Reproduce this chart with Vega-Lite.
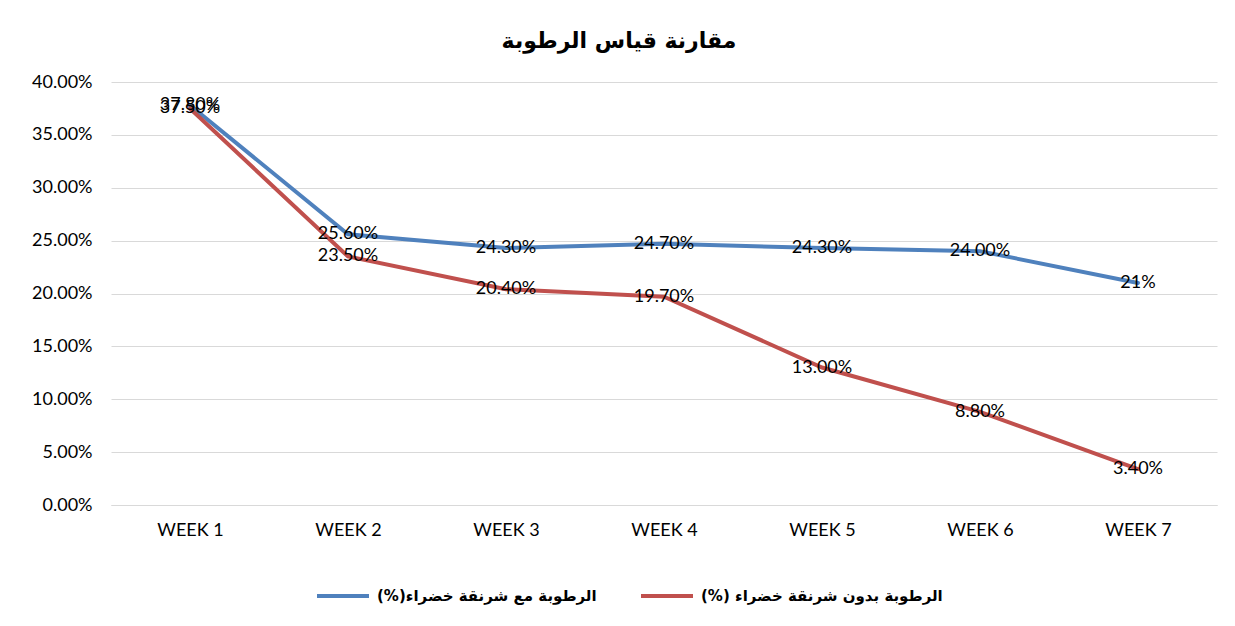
{
  "$schema": "https://vega.github.io/schema/vega-lite/v6.json",
  "width": 1106,
  "height": 423,
  "autosize": {"type": "none"},
  "padding": {"left": 111, "top": 82, "right": 18, "bottom": 121},
  "background": "white",
  "title": {
    "text": "مقارنة قياس الرطوبة",
    "font": "DejaVu Sans",
    "fontSize": 22,
    "fontWeight": "bold",
    "color": "#000000",
    "anchor": "middle",
    "dx": -45,
    "offset": 20
  },
  "config": {
    "view": {"stroke": null},
    "font": "Lato"
  },
  "data": {
    "values": [
      {"week": "WEEK 1", "series": "الرطوبة مع شرنقة خضراء(%)", "value": 0.378, "label": "37.80%"},
      {"week": "WEEK 2", "series": "الرطوبة مع شرنقة خضراء(%)", "value": 0.256, "label": "25.60%"},
      {"week": "WEEK 3", "series": "الرطوبة مع شرنقة خضراء(%)", "value": 0.243, "label": "24.30%"},
      {"week": "WEEK 4", "series": "الرطوبة مع شرنقة خضراء(%)", "value": 0.247, "label": "24.70%"},
      {"week": "WEEK 5", "series": "الرطوبة مع شرنقة خضراء(%)", "value": 0.243, "label": "24.30%"},
      {"week": "WEEK 6", "series": "الرطوبة مع شرنقة خضراء(%)", "value": 0.240, "label": "24.00%"},
      {"week": "WEEK 7", "series": "الرطوبة مع شرنقة خضراء(%)", "value": 0.21, "label": "21%"},
      {"week": "WEEK 1", "series": "الرطوبة بدون شرنقة خضراء (%)", "value": 0.375, "label": "37.50%"},
      {"week": "WEEK 2", "series": "الرطوبة بدون شرنقة خضراء (%)", "value": 0.235, "label": "23.50%"},
      {"week": "WEEK 3", "series": "الرطوبة بدون شرنقة خضراء (%)", "value": 0.204, "label": "20.40%"},
      {"week": "WEEK 4", "series": "الرطوبة بدون شرنقة خضراء (%)", "value": 0.197, "label": "19.70%"},
      {"week": "WEEK 5", "series": "الرطوبة بدون شرنقة خضراء (%)", "value": 0.13, "label": "13.00%"},
      {"week": "WEEK 6", "series": "الرطوبة بدون شرنقة خضراء (%)", "value": 0.088, "label": "8.80%"},
      {"week": "WEEK 7", "series": "الرطوبة بدون شرنقة خضراء (%)", "value": 0.034, "label": "3.40%"}
    ]
  },
  "encoding": {
    "x": {
      "field": "week",
      "type": "ordinal",
      "scale": {"type": "point", "padding": 0.5},
      "axis": {
        "title": null,
        "labelAngle": 0,
        "labelFont": "Lato",
        "labelFontSize": 18,
        "labelFontWeight": "normal",
        "labelColor": "#000000",
        "labelPadding": 16,
        "ticks": false,
        "domainColor": "#d9d9d9",
        "grid": false
      }
    },
    "y": {
      "field": "value",
      "type": "quantitative",
      "scale": {"domain": [0, 0.4], "nice": false},
      "axis": {
        "title": null,
        "format": ".2%",
        "values": [0, 0.05, 0.1, 0.15, 0.2, 0.25, 0.3, 0.35, 0.4],
        "labelFont": "Lato",
        "labelFontSize": 18,
        "labelFontWeight": "normal",
        "labelColor": "#000000",
        "labelPadding": 19,
        "ticks": false,
        "domain": false,
        "gridColor": "#d9d9d9",
        "gridWidth": 1
      }
    }
  },
  "layer": [
    {
      "mark": {"type": "line", "strokeWidth": 4, "strokeCap": "round"},
      "encoding": {
        "color": {
          "field": "series",
          "type": "nominal",
          "scale": {
            "domain": ["الرطوبة مع شرنقة خضراء(%)", "الرطوبة بدون شرنقة خضراء (%)"],
            "range": ["#4f81bd", "#c0504d"]
          },
          "legend": {
            "title": null,
            "orient": "none",
            "legendX": 204,
            "legendY": 486,
            "direction": "horizontal",
            "symbolType": "stroke",
            "symbolSize": 2704,
            "symbolStrokeWidth": 4,
            "labelFont": "DejaVu Sans",
            "labelFontSize": 15,
            "labelFontWeight": "bold",
            "labelColor": "#000000",
            "labelLimit": 400,
            "labelExpr": "'\u202b' + datum.label + '\u202c'",
            "columnPadding": 36,
            "labelOffset": 6
          }
        }
      }
    },
    {
      "mark": {"type": "text", "fontSize": 18, "font": "Lato", "color": "#000000", "baseline": "middle", "align": "center"},
      "encoding": {
        "text": {"field": "label"}
      }
    }
  ]
}
